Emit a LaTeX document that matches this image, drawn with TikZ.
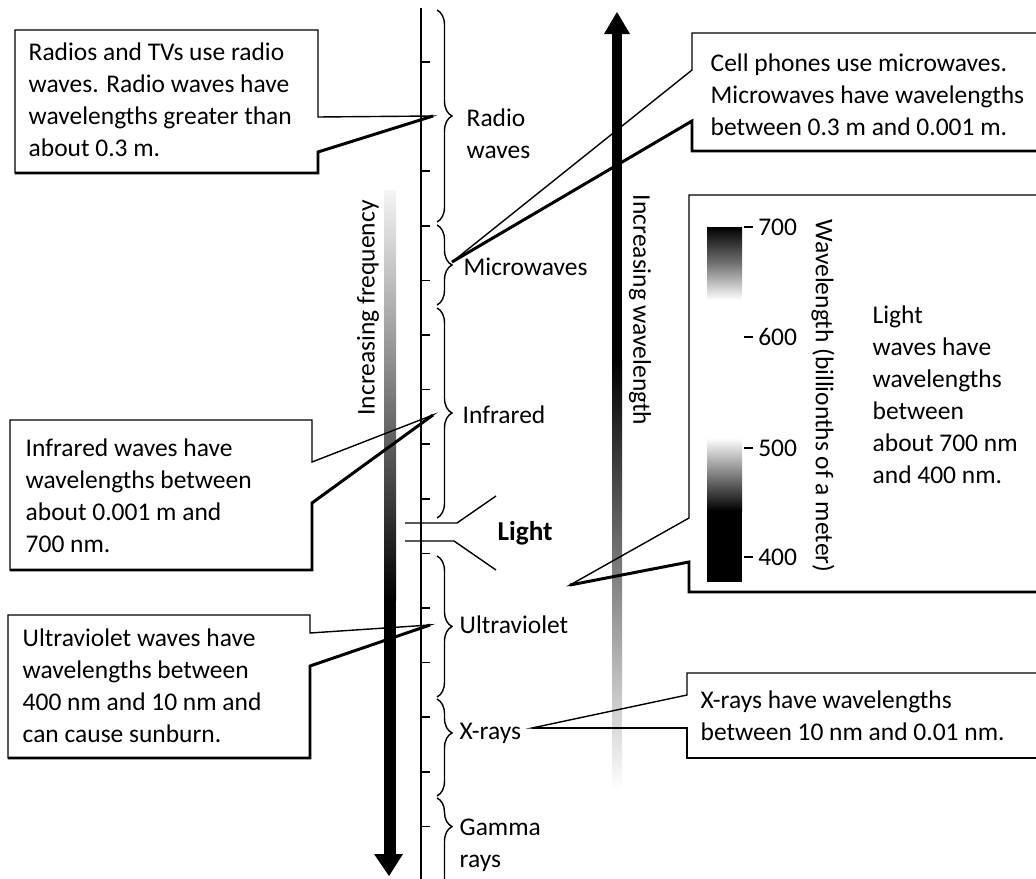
\documentclass[tikz,border=0pt]{standalone}
\usepackage{fontspec}
\setmainfont{Carlito}
\usetikzlibrary{decorations.pathreplacing, calc}
\tikzset{
  every picture/.style={font=\fontsize{14.5}{18.2}\selectfont, line width=0.8pt},
  callout/.style={anchor=west, align=left, inner sep=0pt},
  outline/.style={draw=black, line width=0.8pt},
  heavy/.style={draw=black, line width=1.7pt},
  bandbrace/.style={decorate, decoration={brace, amplitude=0.3cm, aspect=#1}, line width=0.8pt},
  bandbrace/.default=0.5,
  band/.style={anchor=west, align=left, inner sep=0pt},
  tick/.style={line width=1pt},
}

\begin{document}
\begin{tikzpicture}[x=0.02cm, y=-0.02cm]
  \useasboundingbox (0,0) rectangle (1036,879);
  \clip (0,0) rectangle (1036,879);

  % increasing frequency (down)
  \shade[top color=black!4, bottom color=black] (384,190) rectangle (396,600);
  \fill (384,599) rectangle (396,856);
  \fill (374,854) -- (403,854) -- (389,876) -- cycle;
  \node[rotate=90] (freq) at (368,308) {Increasing frequency};

  % increasing wavelength (up)
  \fill (612,32) rectangle (622,361);
  \shade[top color=black, bottom color=white] (612,360) rectangle (622,790);
  \fill (604,34) -- (630,34) -- (617,12) -- cycle;
  \node[rotate=-90] (wave) at (640,310) {Increasing wavelength};

  % scale with ticks
  \draw[line width=1.1pt] (421,8) -- (421,879);
  \foreach \k in {0,...,14}
    \draw[tick] (421,62+54.6*\k) -- ++(9,0);

  % visible light band
  \draw (405,523) -- (457,523) -- (496,496);
  \draw (405,541) -- (454,541) -- (496,570);
  \node[anchor=west, inner sep=0pt, font=\fontsize{15.5}{18}\selectfont\bfseries] (light) at (497,533) {Light};

  % braces
  \draw[bandbrace] (437,10) -- (437,222);
  \draw[bandbrace] (437,225) -- (437,305);
  \draw[bandbrace] (437,308) -- (437,518);
  \draw[bandbrace] (437,556) -- (437,697);
  \draw[bandbrace=0.35] (437,699) -- (437,796);
  \draw[bandbrace=0.28] (437,798) -- (437,900);

  \node[band] (radio) at (466,134) {Radio\\waves};
  \node[band] (micro) at (463,267) {Microwaves};
  \node[band] (infra) at (462,415) {Infrared};
  \node[band] (uv) at (459,625) {Ultraviolet};
  \node[band] (xray) at (459,733) {X-rays};
  \node[band] (gamma) at (459,845) {Gamma\\rays};

  % pointer tips
  \coordinate (radiotip) at (433,116);
  \coordinate (microtip) at (452,262);
  \coordinate (infratip) at (433,415);
  \coordinate (uvtip) at (430,625);
  \coordinate (xraytip) at (532,728);
  \coordinate (lighttip) at (570,585);

  % callouts, left
  \draw[outline] (318,117) -- (318,30) -- (15,30) -- (15,173) -- (318,173) -- (318,152) -- (radiotip) -- cycle;
  \draw[heavy] (radiotip) -- (318,152) -- (318,173) -- (15,173);
  \node[callout] (radiotxt) at (28,100) {Radios and TVs use radio\\waves. Radio waves have\\wavelengths greater than\\about 0.3 m.};

  \draw[outline] (312,462) -- (312,420) -- (10,420) -- (10,570) -- (312,570) -- (312,503) -- (infratip) -- cycle;
  \draw[heavy] (infratip) -- (312,503) -- (312,570) -- (10,570);
  \node[callout] (infratxt) at (25,496) {Infrared waves have\\wavelengths between\\about 0.001 m and\\700 nm.};

  \draw[outline] (310,633) -- (310,615) -- (8,615) -- (8,758) -- (310,758) -- (310,666) -- (uvtip) -- cycle;
  \draw[heavy] (uvtip) -- (310,666) -- (310,758) -- (8,758);
  \node[callout] (uvtxt) at (22,686) {Ultraviolet waves have\\wavelengths between\\400 nm and 10 nm and\\can cause sunburn.};

  % callouts, right
  \draw[outline] (692,70) -- (692,33) -- (1040,33) -- (1040,151) -- (692,151) -- (692,121) -- (microtip) -- cycle;
  \draw[heavy] (microtip) -- (692,121) -- (692,151) -- (1040,151);
  \node[callout] (microtxt) at (710,95) {Cell phones use microwaves.\\Microwaves have wavelengths\\between 0.3 m and 0.001 m.};

  \draw[outline] (689,518) -- (689,195) -- (1040,195) -- (1040,592) -- (689,592) -- (689,562) -- (lighttip) -- cycle;
  \draw[heavy] (lighttip) -- (689,562) -- (689,592) -- (1040,592);
  \node[callout] (lighttxt) at (872,395) {Light\\waves have\\wavelengths\\between\\about 700 nm\\and 400 nm.};

  \draw[outline] (687,695) -- (687,673) -- (1040,673) -- (1040,758) -- (687,758) -- (687,728) -- (xraytip) -- cycle;
  \draw[heavy] (xraytip) -- (687,728) -- (687,758) -- (1040,758);
  \node[callout] (xraytxt) at (700,716) {X-rays have wavelengths\\between 10 nm and 0.01 nm.};

  % visible wavelength bar
  \shade[top color=black, bottom color=white, middle color=black!55] (707,227) rectangle (742,300);
  \shade[top color=white, bottom color=black] (707,438) rectangle (742,511);
  \fill (707,510) rectangle (742,582);
  \foreach \y/\v in {227/700, 337/600, 448/500, 557/400}
    \draw[tick] (744,\y) -- (753,\y) node[anchor=west, inner sep=2.5pt] (wl\v) {\v};
  \node[rotate=-90] (wlaxis) at (823,396) {Wavelength (billionths of a meter)};
\end{tikzpicture}
\end{document}
